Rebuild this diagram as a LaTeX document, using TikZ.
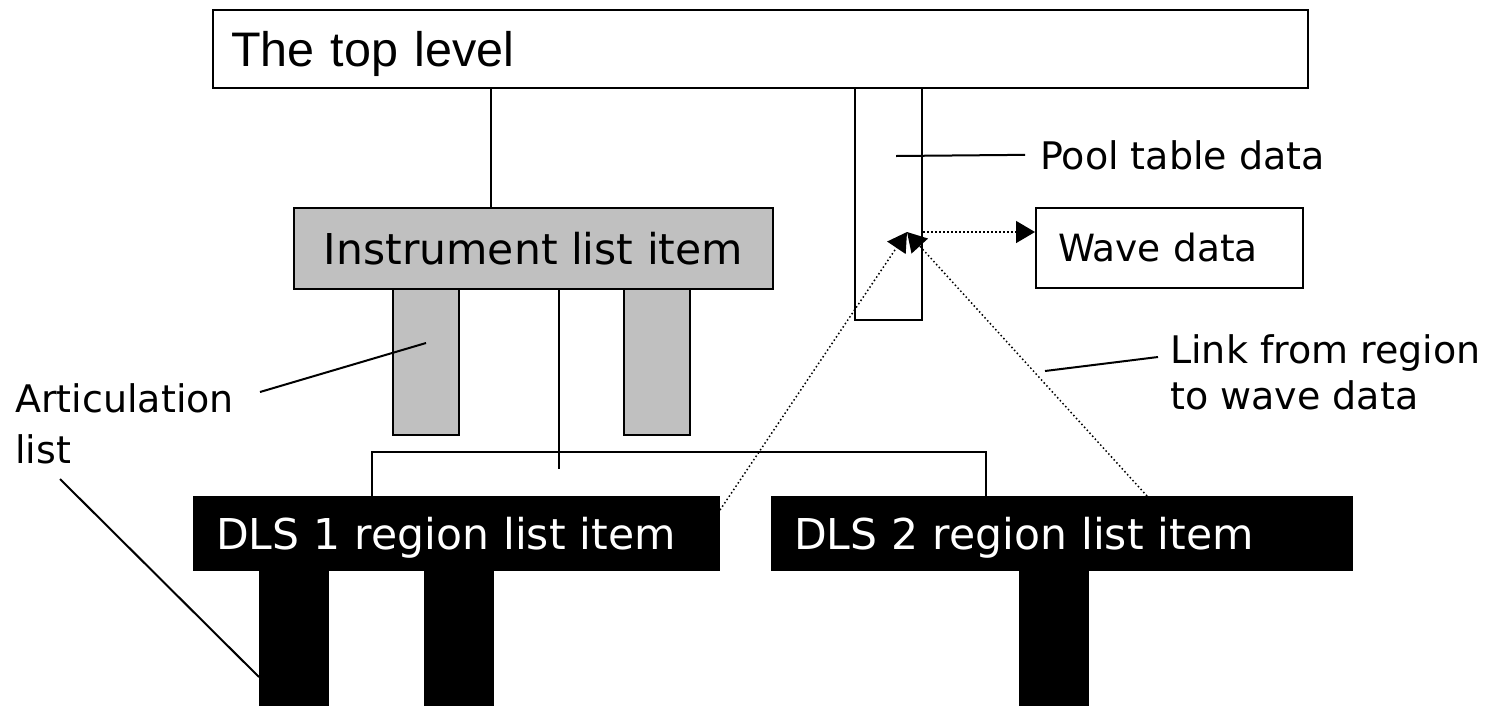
\documentclass[tikz,border=0pt]{standalone}
\usepackage{fontspec}
\setmainfont{DejaVu Sans}
\newfontfamily\toplevelfont{Liberation Sans}
\usetikzlibrary{arrows.meta}
\definecolor{artgrey}{HTML}{C0C0C0}

\tikzset{
  panel/.style={draw=black, line width=2pt, anchor=north west, inner ysep=0pt, inner xsep=22pt,
    text height=31pt, text depth=0pt, font=\fontsize{42.5}{51}\selectfont},
  leg/.style={draw=black, line width=2pt, anchor=north west, inner sep=0pt},
  wire/.style={line width=2pt},
  link/.style={line width=1.5pt, dash pattern=on 1.5pt off 2.5pt, -{Triangle[length=19pt,width=22pt]}},
  note/.style={anchor=base west, inner sep=0pt, align=left, font=\fontsize{38}{47}\selectfont},
}

\begin{document}
\begin{tikzpicture}[x=1pt,y=-1pt]
\useasboundingbox (0,0) rectangle (1503,705);

% helper points
\coordinate (trunk) at (491,0);
\coordinate (stem) at (559,469);
\coordinate (barL) at (372,452); \coordinate (barR) at (986,452);
\coordinate (tip) at (907,232);
\coordinate (poolpt) at (896,156);
\coordinate (artfrom) at (260,392); \coordinate (artpt) at (426,343);
\coordinate (legfrom) at (60,479); \coordinate (legpt) at (259,677);
\coordinate (linkpt) at (1045,371); \coordinate (linkto) at (1158,357);

% top level and pool table
\node[panel, minimum width=1095pt, minimum height=78pt, text width=1059pt, inner xsep=18pt,
  font=\toplevelfont\fontsize{48.5}{58}\selectfont, text height=34.7pt] (top) at (212,9) {The top level};
\node[leg, minimum width=67pt, minimum height=232pt] (pool) at (854,87) {};
\node[panel, minimum width=267pt, minimum height=80pt, text width=223pt,
  font=\fontsize{37.5}{45}\selectfont, text height=27.5pt] (wave) at (1035,207) {Wave data};

% instrument and its articulation list
\draw[wire] (top.south -| trunk) -- (trunk |- 0,207);
\node[leg, fill=artgrey, minimum width=66pt, minimum height=146pt] (artleg1) at (392,288) {};
\node[leg, fill=artgrey, minimum width=66pt, minimum height=146pt] (artleg2) at (623,288) {};
\node[panel, fill=artgrey, minimum width=479pt, minimum height=81pt] (instr) at (293,207) {Instrument list item};
\draw[wire] (instr.south -| stem) -- (stem);

% regions
\draw[wire] (barL |- 0,496) -- (barL) -- (barR) -- (barR |- 0,496);
\node[leg, fill=black, minimum width=68pt, minimum height=140pt] (dlsleg1) at (259,569) {};
\node[leg, fill=black, minimum width=68pt, minimum height=140pt] (dlsleg2) at (424,569) {};
\node[leg, fill=black, minimum width=68pt, minimum height=140pt] (dlsleg3) at (1019,569) {};
\node[panel, fill=black, text=white, minimum width=525pt, minimum height=73pt, text width=481pt] (dls1) at (193,496) {DLS 1 region list item};
\node[panel, fill=black, text=white, minimum width=580pt, minimum height=73pt, text width=536pt] (dls2) at (771,496) {DLS 2 region list item};

% links to the wave data
\draw[link] ([yshift=-14pt]dls1.north east) -- (tip);
\draw[link] ([xshift=376pt]dls2.north west) -- (tip);
\draw[link] (tip -| pool.east) -- (wave.west |- tip);

% labels (base is the last line)
\node[note] (poollbl) at (1040,169) {Pool table data};
\draw[wire] (poolpt) -- ([xshift=-15pt]poollbl.west);
\node[note, font=\fontsize{38}{51}\selectfont] (artlbl) at (15,463) {Articulation\\list};
\draw[wire] (artfrom) -- (artpt);
\draw[wire] (legfrom) -- (legpt);
\node[note, font=\fontsize{38}{46}\selectfont] (linklbl) at (1170,409) {Link from region\\to wave data};
\draw[wire] (linkpt) -- (linkto);
\end{tikzpicture}
\end{document}
